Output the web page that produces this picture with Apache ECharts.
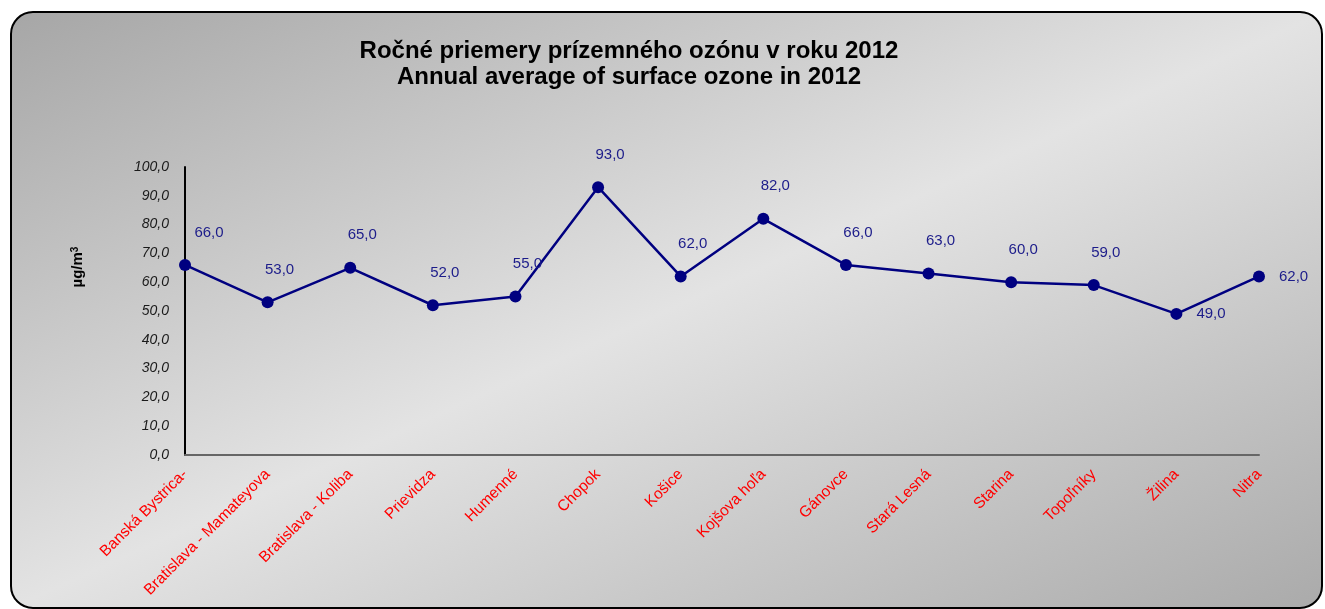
<!DOCTYPE html>
<html>
<head>
<meta charset="utf-8">
<script src="https://cdn.jsdelivr.net/npm/echarts@6/dist/echarts.min.js"></script>
<style>
  html, body { margin: 0; padding: 0; background: #ffffff; }
  #chart { width: 1325px; height: 609px; }
</style>
</head>
<body>
<div id="chart"></div>
<script>
// Monitoring stations and their 2012 annual mean ozone (µg/m³)
const stations = [
  'Banská Bystrica-', 'Bratislava - Mamateyova', 'Bratislava - Koliba', 'Prievidza',
  'Humenné', 'Chopok', 'Košice', 'Kojšova hoľa', 'Gánovce', 'Stará Lesná',
  'Starina', 'Topoľníky', 'Žilina', 'Nitra'
];
const ozoneMeans = [66, 53, 65, 52, 55, 93, 62, 82, 66, 63, 60, 59, 49, 62];
const yTicks = { min: 0, max: 100, interval: 10 };
const titleLines = ['Ročné priemery prízemného ozónu v roku 2012', 'Annual average of surface ozone in 2012'];

const font = '"Liberation Sans", Arial, sans-serif';
const navy = '#000080';

// Per-point label placement: most sit above, edge points shift sideways
const seriesData = ozoneMeans.map((v, i) => {
  const item = { value: v };
  if (i === 0) item.label = { offset: [24, 0] };
  if (i === 12 || i === 13) item.label = { position: 'right', distance: 14, offset: [0, 0] };
  return item;
});

// Panel fill: light band running from the lower-left to the upper-right corner
const panel = { x: 11, y: 12, width: 1311, height: 596 };
const diag = Math.hypot(panel.width, panel.height);
const dx = panel.height / diag, dy = panel.width / diag;
const span = (panel.width * dx + panel.height * dy);
const panelFill = new echarts.graphic.LinearGradient(
  0, 0, (dx * span) / panel.width, (dy * span) / panel.height,
  [
    { offset: 0, color: '#a6a6a6' },
    { offset: 0.5, color: '#e3e3e3' },
    { offset: 1, color: '#aaaaaa' }
  ]
);

const chart = echarts.init(document.getElementById('chart'), null, { renderer: 'canvas' });
chart.setOption({
  animation: false,
  backgroundColor: '#ffffff',
  graphic: [
    {
      type: 'rect',
      z: -10,
      shape: { x: panel.x, y: panel.y, width: panel.width, height: panel.height, r: 22 },
      style: { fill: panelFill, stroke: '#000000', lineWidth: 2 }
    },
    {
      type: 'text',
      x: 78, y: 267,
      rotation: Math.PI / 2,
      style: {
        text: '{u|µg/m}{s|3}',
        align: 'center',
        verticalAlign: 'middle',
        rich: {
          u: { font: 'bold 15px ' + font, fill: '#000000' },
          s: { font: 'bold 10px ' + font, fill: '#000000', verticalAlign: 'top', padding: [0, 0, 6, 0] }
        }
      }
    }
  ],
  title: {
    text: titleLines.join('\n'),
    left: 624,
    top: 33,
    textAlign: 'center',
    textStyle: {
      fontFamily: font,
      fontSize: 24,
      fontWeight: 'bold',
      color: '#000000',
      lineHeight: 26
    }
  },
  grid: { left: 185, right: 66, top: 167, bottom: 154, containLabel: false },
  xAxis: {
    type: 'category',
    data: stations,
    boundaryGap: false,
    axisLine: { lineStyle: { color: '#666666', width: 2 } },
    axisTick: { show: false },
    splitLine: { show: false },
    axisLabel: {
      rotate: 45,
      interval: 0,
      margin: 17,
      color: '#ff0000',
      fontFamily: font,
      fontSize: 15.5
    }
  },
  yAxis: {
    type: 'value',
    min: yTicks.min,
    max: yTicks.max,
    interval: yTicks.interval,
    axisLine: { show: true, lineStyle: { color: '#000000', width: 2 } },
    axisTick: { show: false },
    splitLine: { show: false },
    axisLabel: {
      margin: 16,
      color: '#1a1a1a',
      fontFamily: font,
      fontSize: 14,
      fontStyle: 'italic',
      formatter: v => v.toFixed(1).replace('.', ',')
    }
  },
  series: [{
    type: 'line',
    data: seriesData,
    symbol: 'circle',
    symbolSize: 12,
    lineStyle: { color: navy, width: 2.5 },
    itemStyle: { color: navy },
    label: {
      show: true,
      position: 'top',
      distance: 19,
      offset: [12, 0],
      color: '#1c1c8a',
      fontFamily: font,
      fontSize: 15,
      formatter: p => p.value.toFixed(1).replace('.', ',')
    }
  }]
});
</script>
</body>
</html>
